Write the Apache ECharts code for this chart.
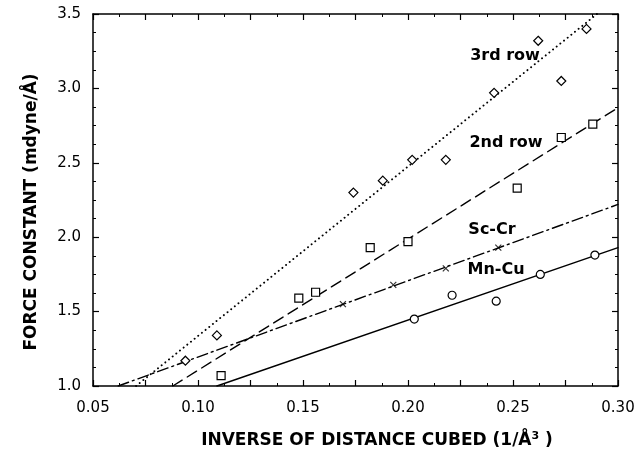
<!DOCTYPE html>
<html>
<head>
<meta charset="utf-8">
<script src="https://cdn.jsdelivr.net/npm/echarts@6/dist/echarts.min.js"></script>
<style>html,body{margin:0;padding:0;background:#fff;}#c{width:642px;height:458px;}</style>
</head>
<body>
<div id="c"></div>
<script>
// 3rd row (diamonds)
const row3Points = [[0.094,1.17],[0.109,1.34],[0.174,2.30],[0.188,2.38],[0.202,2.52],[0.218,2.52],[0.241,2.97],[0.262,3.32],[0.273,3.05],[0.285,3.40]];
// 2nd row (squares)
const row2Points = [[0.111,1.07],[0.148,1.59],[0.156,1.63],[0.182,1.93],[0.200,1.97],[0.252,2.33],[0.273,2.67],[0.288,2.76]];
// Sc-Cr (crosses)
const scCrPoints = [[0.169,1.55],[0.193,1.68],[0.218,1.79],[0.243,1.93]];
// Mn-Cu (circles)
const mnCuPoints = [[0.203,1.45],[0.221,1.61],[0.242,1.57],[0.263,1.75],[0.289,1.88]];
// fitted lines (end points)
const row3Line = [[0.0705,1.0],[0.290,3.5]];
const row2Line = [[0.088,1.0],[0.300,2.87]];
const scCrLine = [[0.062,1.0],[0.300,2.22]];
const mnCuLine = [[0.109,1.0],[0.300,1.93]];
const xTicks = {min:0.05, max:0.30, step:0.025};
const yTicks = {min:1.0, max:3.5, step:0.5};
const seriesNames = ['3rd row','2nd row','Sc-Cr','Mn-Cu'];

const chart = echarts.init(document.getElementById('c'));
const FONT = '"DejaVu Sans", sans-serif';
const axisCommon = {
  axisLine:{show:true, lineStyle:{color:'#000', width:1.5}},
  axisTick:{show:true, inside:true, length:6, lineStyle:{color:'#000', width:1.2}},
  splitLine:{show:false}
};
function xAxisDef(pos, labels){
  return Object.assign({}, axisCommon, {
    type:'value', position:pos, min:xTicks.min, max:xTicks.max, interval:xTicks.step,
    minorTick:{show:true, splitNumber:2, length:3, lineStyle:{color:'#000', width:1}},
    axisLabel:{show:labels, margin:15, color:'#000', fontSize:15, fontFamily:FONT,
      formatter:v=>{const k=Math.round(v*1000); return (k%50===0)? v.toFixed(2) : '';}}
  });
}
function yAxisDef(pos, labels){
  return Object.assign({}, axisCommon, {
    type:'value', position:pos, min:yTicks.min, max:yTicks.max, interval:yTicks.step,
    minorTick:{show:true, splitNumber:4, length:3, lineStyle:{color:'#000', width:1}},
    axisLabel:{show:labels, margin:12, color:'#000', fontSize:15, fontFamily:FONT,
      formatter:v=>v.toFixed(1)}
  });
}
const lineSeries = (data, type, w) => ({
  type:'line', data:data, symbol:'none', silent:true,
  lineStyle:{color:'#000', width:w || 1.4, type:type, cap:'round'}, z:2
});
const scatter = (data, symbol, size) => ({
  type:'scatter', data:data, symbol:symbol, symbolSize:size,
  itemStyle:{color:'#fff', borderColor:'#000', borderWidth:1.2, opacity:1}, z:3
});
const lbl = (text, x, y) => ({type:'text', x:x, y:y, style:{text:text, font:'bold 16px '+FONT, fill:'#000', textAlign:'center', textVerticalAlign:'middle'}});
chart.setOption({
  backgroundColor:'#fff',
  animation:false,
  grid:{left:93, right:24, top:14, bottom:72},
  xAxis:[xAxisDef('bottom', true), xAxisDef('top', false)],
  yAxis:[yAxisDef('left', true), yAxisDef('right', false)],
  series:[
    lineSeries(row3Line, [0.1,4.6], 1.9),
    lineSeries(row2Line, [11,6]),
    lineSeries(scCrLine, [11,4,2,4]),
    lineSeries(mnCuLine, 'solid'),
    scatter(row3Points, 'diamond', 9),
    scatter(row2Points, 'rect', 8),
    Object.assign(scatter(scCrPoints, 'path://M0,0L10,10M10,0L0,10', 6), {itemStyle:{color:'none', borderColor:'#000', borderWidth:1.2}}),
    scatter(mnCuPoints, 'circle', 8)
  ],
  graphic:[
    lbl(seriesNames[0], 505, 56),
    lbl(seriesNames[1], 506, 143),
    lbl(seriesNames[2], 492, 230),
    lbl(seriesNames[3], 496, 270),
    {type:'text', x:32, y:212, rotation:Math.PI/2, style:{text:'FORCE CONSTANT (mdyne/Å)', font:'bold 17px '+FONT, fill:'#000', textAlign:'center', textVerticalAlign:'middle'}},
    {type:'text', x:377, y:441, style:{text:'{a|INVERSE OF DISTANCE CUBED (1/Å}{s|3}{a| )}', textAlign:'center', textVerticalAlign:'middle',
      rich:{a:{font:'bold 17px '+FONT, fill:'#000'}, s:{font:'bold 11px '+FONT, fill:'#000', verticalAlign:'top', padding:[0,0,9,0]}}}}
  ]
});
</script>
</body>
</html>
